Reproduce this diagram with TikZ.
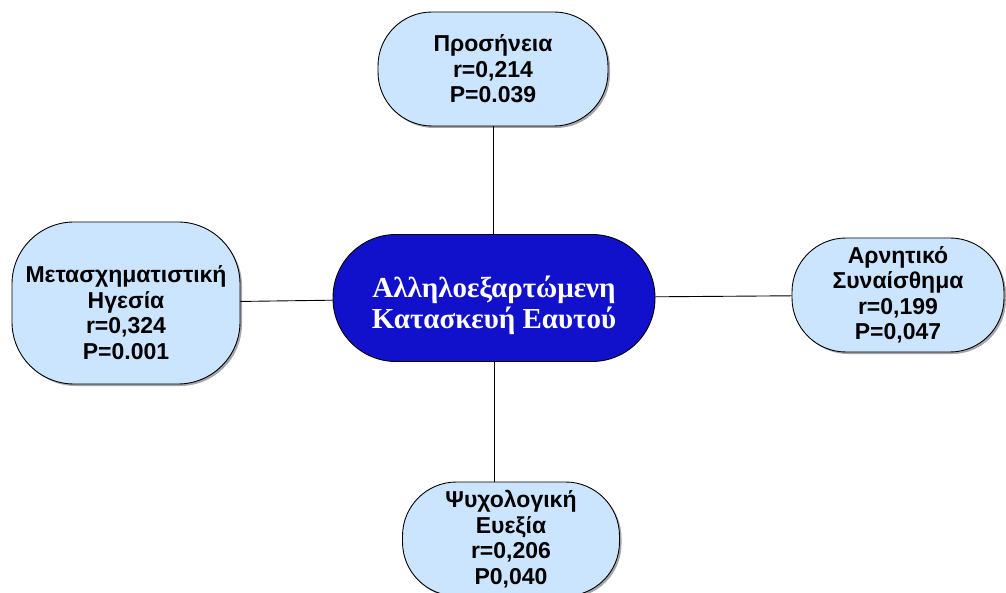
\documentclass[tikz,border=0pt]{standalone}
\usepackage{fontspec}
\setmainfont{Liberation Serif}
\setsansfont{Liberation Sans}
\usetikzlibrary{shadows}
\definecolor{lightblue}{RGB}{204,229,255}
\definecolor{coreblue}{RGB}{17,17,204}

\begin{document}
\begin{tikzpicture}[line width=0.9pt,node distance=230pt]
  \tikzstyle{factor}=[rectangle, rounded corners=54pt, draw=black, fill=lightblue,
    align=center, font=\sffamily\bfseries\fontsize{23}{25.5}\selectfont,
    drop shadow={shadow xshift=2pt, shadow yshift=-2pt, fill=black, opacity=0.35}]
  \tikzstyle{core}=[rectangle, rounded corners=63pt, draw=black, fill=coreblue,
    text=white, align=center, minimum width=322pt, minimum height=127pt,
    font=\rmfamily\bfseries\fontsize{29}{31}\selectfont]

  \useasboundingbox (0,0) rectangle (1006pt,-593pt);

  \node[core] (centre) at (494pt,-298pt)
        {\rule{0pt}{36pt}Αλληλοεξαρτώμενη\\Κατασκευή Εαυτού};
  \node[factor, minimum width=230pt, minimum height=114pt] (top)
        [above of=centre, node distance=229pt, xshift=-1pt]
        {Προσήνεια\\r=0,214\\P=0.039};
  \node[factor, minimum width=228pt, minimum height=162pt, rounded corners=62pt] (left)
        [left of=centre, node distance=368pt, yshift=-5pt]
        {\rule{0pt}{36pt}Μετασχηματιστική\\Ηγεσία\\r=0,324\\P=0.001};
  \node[factor, minimum width=212pt, minimum height=114pt] (right)
        [right of=centre, node distance=404pt, yshift=3pt]
        {Αρνητικό\\Συναίσθημα\\r=0,199\\P=0,047};
  \node[factor, minimum width=217pt, minimum height=114pt] (bottom)
        [below of=centre, node distance=241pt, xshift=17pt]
        {Ψυχολογική\\Ευεξία\\r=0,206\\P0,040};

  \draw (top) -- (top |- centre.north)
        (left) edge (centre)
        (right) edge (centre)
        (centre) -- (centre |- bottom.north);
\end{tikzpicture}
\end{document}
